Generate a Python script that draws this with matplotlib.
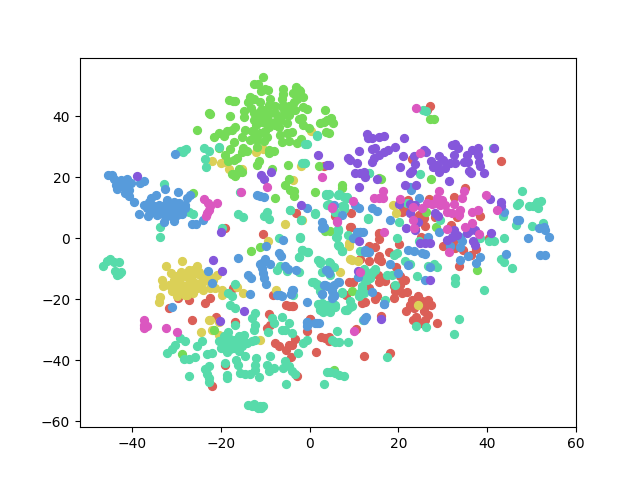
import matplotlib
matplotlib.use("Agg")
import matplotlib.pyplot as plt
import numpy as np
import colorsys

red = [(14.7,-3),(13.5,-2.7),(17.8,-4.7),(20.1,-1.9),(11.4,-7),(13.5,-7.6),(15.6,-6),(16,-7.6),(15.4,-7),(19.6,-9.5),(20.5,-12.5),(21.6,-13.6),(15.4,-12.2),(15.6,-14.5),(16.9,-14.2),(16,-13),(8.8,-14.5),(9.9,-14.5),(13.5,-16.4),(15.2,-18.9),(14.8,-19.9),(12.6,-21),(11.8,-21.3),(8.1,-18.5),(19,-15.8),(20.5,-15.3),(19.3,-17.4),(20.8,-18),(22,-17.8),(19,-19.6),
(24.5,-19.1),(23.1,-20.2),(22.6,-21.8),(23.5,-22.9),(25.4,-20.7),(26.7,-20.2),(27.5,-22),(26.1,-22.4),(21.7,-24),(25.7,-24),(26.6,-25.1),(26.1,-26.7),(23.3,-27),(24,-25.9),(25.2,-27.8),(28.7,-27.8),(16.2,-25.4),(10.5,-29.8),(12.3,-38.8),(18.2,-37.7),(4.3,-33.8),(33.6,-9),(37.6,-3.6),(36.3,-5.4),(34.6,-3.8),(30.2,-2.7),(32.9,-3.2),
(9.2,3.8),(15.6,1.6),(15.6,-0.3),(-4,-22.3),(0.2,-26.6),(3.5,-32.7),(-4.7,-22.3),(-17.3,-16.4),(-29.7,-19.6),(-27.1,-20.2),(-23.7,-21.3),(-22.4,-19.6),(-31.8,-22.9),(-26.5,-26.9),(-21.1,-25.9),(-16.8,-27.5),(-8.3,-18.8),(-5.3,-22),(-3.8,-22.4),(-9.2,-24.9),(-9.6,-29.5),(-8.9,-28.4),(0.2,-26.5),(-0.6,-30.6),(-3.2,-33.1),(-4.7,-34.9),(-4,-35.1),(-5.3,-36.6),(-7.7,-34.4),(-6.8,-35.3),(2.6,-32.5),(4.3,-32.5),(1.4,-37.4),(-4.2,-39.1),(-19,-41.5),(-22,-48.6),(-2.9,-45.3),
(-3.1,8.2),(-19.2,3.3),(-10.5,1.2),(3.2,23.8),(27.2,43.2),(26.5,42.1),(43.2,25.4),(23.2,25.9),(35,16.4),(32.5,13.4),(27,12.8),(22.2,12.6),(20.8,8.7),(21.2,9.3),(24.6,7.6),(24.2,6.5),(25.7,6.5),(26.1,4.1),(28.2,6.8),(33.2,6.8),(38.5,7.3),(9.3,8.2),(9.3,3.8),(15.6,1.4),(32,4.4),(23.7,3),(25.2,0.5),(40.4,0),(32.5,-0.6),(5.8,7.1)]

yellow = [(-28.8,-7.6),(-32.3,-9),(-31.3,-11.4),(-33.3,-13.8),(-33.1,-15.8),(-33.8,-19.4),(-34,-20.9),(-27.3,-10.3),(-25.4,-9.3),(-26.2,-10.3),(-29.2,-12),(-30.7,-13.6),(-29.5,-14.2),(-28,-12.5),(-26.5,-12.5),(-24.7,-12),(-23.2,-13.6),(-31.8,-15.3),(-30.3,-15.8),(-28.8,-15.3),(-27.3,-14.7),(-25.8,-14.7),(-24.3,-14.7),(-31,-17.4),(-29.5,-18),(-28,-18.5),(-26.2,-18),(-28.4,-16.9),(-26.9,-16.9),(-25.4,-16.4),(-22.4,-16.4),(-20.9,-12),(-21.7,-13.6),(-19.8,-16.9),(-19.8,-18.5),(-21.3,-16.4),(-27.7,-18.5),(-29.9,-19.1),(-16.4,-16.1),(-15,-18),(-22.8,-26.9),(-22.4,-26.7),(-24.4,-30.9),(-22,-30),(-20.4,-31.9),(-11.3,-33.3),(-7.6,-16.9),(-20.5,-27.5),
(-22,25.4),(-20.1,24.8),(-19.4,25.1),(-18.1,22.8),(-15.3,22.7),(-12.1,28.1),(-10.5,29.2),(0.3,35),(-1.9,23.8),(-3.8,19.1),(-5.5,4.6),(-9.4,-1.1),(-1.7,5.8),(18.8,10.8),(19.6,8.2),(9,-2.5),(9.2,-6.7),(9.6,-7.3),(10.9,-7.6),(6.9,-11.2),(24.5,-22),(8.8,-1.6),
(-29,-11),(-27,-13),(-25,-11),(-30,-17),(-28,-16),(-27,-17.5),(-24,-17),(-25,-15),(-30,-12.5),(-23,-12)]

green = [(-10.6,52.8),(-12.6,50.4),(-11.7,50.4),(-10.1,48.9),(-10.9,48.1),(-9.4,48.5),(-6.1,48.8),(-6.1,47.3),(-3,49.7),(-2.5,48.6),(-3.8,47.5),(-2.1,48.1),(-6.2,45.7),(-1.5,46.3),(-2.9,45.7),(-3.6,44.8),(-13.5,46.2),(-12.6,45.7),(-13.8,44.8),(-11.1,44.8),(-9,45.7),(-18.1,45.3),(-17.3,45.1),(-16.8,45.1),(-13.2,42.6),(-14.9,41.8),(-12.6,41),(-9.2,43.7),(-7.7,43.2),(-6.1,43.7),(-4.7,43.2),(-3.2,42.1),(-5.5,41.5),(-1.4,42.9),(-0.7,42.3),(3.4,42.1),(-22.8,41),(-22.4,40.8),(-18,40.1),(-14.7,39.7),(-12.6,38.8),(-11.1,39.9),(-9.6,39.9),(-7.7,41),(-5.9,40.4),(-4.7,40.4),(-1.7,39.3),(-2.5,39),(-12.2,37.1),(-10.7,38.2),(-8.9,38.2),(-7.7,37.1),(-6.6,38.8),(-5.1,37.7),(-7,36.6),(-9.2,36.6),(3.2,38.2),(2.4,37.7),(3.9,38.8),(-1.4,37.1),(-0.2,36),(3.7,34.7),(-25.4,35.3),(-16.8,36.4),(-17.5,35.5),(-18.6,35),(-20.5,34.4),(-21.6,33.3),(-19.4,33.6),(-14.5,35.5),(-15.3,33.3),(-12.6,34.4),(-11.1,34.4),(-9.6,33.3),(-6.6,33.9),(-5.1,34.4),(-4,34.7),(-13.4,32.2),(-11.9,32.2),(-10.4,31.7),(-6.2,31.5),(-4.7,31.7),(-2.9,31.1),(-1.9,32.6),(-17.1,31.5),(-17.9,29.3),(-15,29.7),(-14.1,28.7),(-15.3,28.1),(-11.9,30),(-9.1,28.9),(-8.1,28.6),(-9.1,27.9),(-19.2,27.3),(-18.5,25.4),(-17.1,25.7),(-16.4,26.4),(-17.5,21.1),(-16.4,21.3),(-15.3,21.8),(-16.8,20.5),(-16,22.6),(-11.5,25.4),(-11.9,24),(-4.9,24),(-4.6,19.3),(-5.5,17.3),(-4.4,15.8),(-3.6,15.3),(-3.5,13.9),(1.3,15.1),(-7.8,13),(2.2,23.8),(-26.2,14.7),(-8.5,22.6),(3.4,2.2),(-20.4,29.5),(-11.1,40.4),(-10,38.2),(-7.4,38.8),(-5.9,42.6),(-4.4,42.6),(-8.9,41),
(4.9,39.5),(5.3,37.6),(4.3,34.4),(7.3,17.5),(7.3,16.4),(27.2,39),(28,39),(27.4,19.5),(26.3,8.7),(28.5,3.6),(4.7,2.5),(37.8,-10.3),(9.6,-17.4),(5.4,-43.1),(-13.2,-4.3),(-11.3,-3),(-21.6,-30.2),(-28.8,-37.9),(15.6,19.7),(16,19.5),
(-13,35),(-10,35),(-11,42),(-10.5,42)]

teal = [(-46.6,-9.2),(-45.7,-7.6),(-45,-6.7),(-44.2,-7.9),(-43.1,-7.9),(-44,-10.9),(-43.1,-11.7),(-42.5,-11.2),(-43.5,-12.2),(-19.4,-32.2),(-18.3,-30.9),(-20.5,-33.8),(-19.4,-34.4),(-18.3,-34.4),(-16.8,-33.3),(-16,-32.2),(-14.9,-31.7),(-20.1,-36),(-19,-36),(-17.9,-35.5),(-16.4,-34.9),(-15.3,-35.5),(-14.1,-34.4),(-13,-33.8),(-12.3,-33.3),(-18.6,-37.4),(-16,-37.1),(-12.6,-30),(-12.3,-28.4),(-16.8,-28.6),(-12.3,-24.6),(-13,-26.2),(-8.1,-27.8),(-8.5,-26.2),(-6.2,-26),(-4.7,-27.8),(-5.5,-30),(-6.2,-30.2),(-4,-31.1),(-9.4,-30.8),(-0.6,-33.3),(-1.4,-34.4),(-2.6,-37.7),
(-29.3,-32.7),(-28.2,-33.6),(-30.3,-34.9),(-31,-36.4),(-32.2,-37.7),(-28.4,-39.5),(-27.3,-39.5),(-25.9,-39),(-25.4,-35.5),(-24.3,-33.8),(-23.2,-38),(-22,-37.7),(-23.7,-42.9),(-22.8,-42),(-23.2,-44.4),(-22.6,-45.9),(-22.8,-47.3),(-27.1,-45.3),(-18.6,-44.8),(-18.6,-45.9),(-19.2,-40.9),(-16.6,-39.9),(-16.2,-41.5),(-14.5,-38.8),(-12.1,-39.3),(-8.9,-38.8),(-9.6,-41.5),(-12.3,-41.5),(-12.3,-43.1),(-15.6,-44.2),(-14.5,-44.5),(-13.4,-44.5),(-11.5,-45.6),(-9.2,-43.7),(-8.1,-42.6),(-5.9,-42.6),(-5.5,-40.4),(-4.7,-42),(-4,-43.7),(-3.2,-44.5),(-5.3,-47.9),(3.2,-47.7),(3.9,-44),
(-13.8,-54.6),(-12.6,-54.3),(-11.7,-55.7),(-10.6,-54.9),(-12.3,-55.2),(-11.3,-55.2),(-16.8,-14.9),(-18.4,-18),(-17.4,-19.1),(-17.9,-21.8),(-16.9,-22.9),(-7.4,-10.3),(-6.6,-9),(-5.1,-10.9),(-2.5,-11.2),(-2.5,-6.2),(-1.7,-4),(-0.4,-4.7),(-3.8,-18.5),(0.5,-14.5),(1.7,-14.9),(2.4,-17.4),(2,-21.5),(3.2,-22.4),(2.4,-23.5),(3.9,-23.5),(2.3,-7.6),(3.5,-10.9),
(-29.2,28.6),(-28.4,29),(-27.9,29.2),(-28.6,28.2),(-23.9,29.5),(-22.8,28.7),(-20.5,30),(-23.7,25.8),(-23.4,23.2),(-32.9,17.7),(-33.7,3.5),(-33.7,0.5),(-27.3,8.7),(-26.2,7.9),(-19.8,3.3),(-16.2,8),(-15.1,6.8),(-10.4,7.4),(-9.6,8.7),(-9.2,6.3),(-4.4,9.3),(-1.9,5.8),(-6.8,-0.1),(-2.1,0.2),(-0.7,30.9),(1.7,33.6),(-1.1,24.6),(3.7,14.2),(3.9,10.9),(1.3,8),(-15.6,15),(1.7,33.8),(-1,31),(-1.2,24.7),(-1.7,24.5),(13.5,21.4),(3.9,14.1),(3.7,14.6),(6.5,14.1),(8.4,13.5),(7.7,9.7),(7.3,10.5),(4.3,11.1),(5.8,8.6),(13.2,6.4),(1.3,8.1),(-1.9,5.9),(-4.4,9.2),(6.5,2.9),
(13.5,21.5),(24.8,21.1),(41.3,29.7),(47.9,15.3),(46.8,10.9),(47.2,11.5),(49.4,10.7),(50.5,10.7),(51.3,11.8),(52.2,12.3),(51.5,9.8),(50.2,4.1),(52.6,4.9),(46.6,4.4),(43.6,7.1),(43.9,0.2),(19.7,0),(20.1,5.4),(13.2,6.5),(6.6,14.4),(7.7,13.6),(8.4,13.3),(7.7,10.4),(6.4,2.5),(8.7,1.1),(6,0.3),(4.3,14.4),(5.8,8.7),(22,11.5),(29.5,5.8),(24.6,-0.9),(38.5,0),(40.4,-1.1),(41.5,-0.9),
(6.6,-2.5),(7.3,-4.3),(11.4,-4.3),(19,-5.4),(19.7,-4.9),(21.6,-7.6),(22.6,-8.4),(26.7,-9.2),(28,-8.5),(28.7,-9.5),(24.2,-12.5),(32.9,-13.1),(32.7,-14.7),(39.3,-17.1),(43.2,-6.8),(43.8,-7.8),(45.6,-9.9),(4.7,-8.2),(5.4,-9.5),(4.7,-12),(12.2,-10),(14.1,-11.4),(14.8,-10.1),(13.7,-13.1),(12.9,-13.6),(12.2,-13.1),(17.5,-12),(18.6,-12.2),(19.3,-15.3),(11.8,-15.8),(11.4,-18),(12.2,-18),(11.1,-19.1),(7.3,-17.8),(9.2,-20.7),(9.6,-22.4),(8.4,-23.5),(5.1,-21.8),(5.8,-21.8),(4.7,-24.3),(17.1,-20.4),(12,-27),(6.2,-30.6),(24,-28.9),(26.3,-29.3),(33.7,-26.6),(32.6,-31.5),(5.1,-33.3),(5.8,-34.1),(6.6,-34.1),(8.7,-34.2),(17.5,-39.1),(4.7,-44),(5.8,-44.2),(6.6,-45),(7.7,-45.3),
(2.8,-21.4),(3.9,-21.9),(5,-21.4),(2.4,-23),(3.5,-23.6),(4.7,-23.6),(5.8,-22.5),(8,-23.6),(9.2,-22.5),(11.4,-18.1),(11.8,-16.5),(13,-12.1),(14.8,-10.5),(14.1,-11),(2,-7.2),(2.4,-8.3),(4.3,-7.7),(2.8,-11),(-2.1,0.3),(-1.7,-3.9),(-2.5,-6.1),(-0.6,-4.7),(0.9,-14.5),(1.7,-15.4),(7.4,-18.1),(6.2,0.5),(6.5,-2.3),(7.3,-4.2),(6.4,2.7),
(25.6,42),(26.3,41.8),(-12.9,-55),(-10.9,-55.6),(-17,-36),(-18,-33),(-15,-33.5),(-18,-36.5),(3.5,-22),(4.4,-22.7),(3,-24.3)]

blue = [(-45.5,20.7),(-44.6,20.7),(-44.2,19.4),(-42.9,18),(-41.2,19.4),(-40.4,18),(-41.9,16.9),(-43.5,16),(-40.8,15.8),(-41.6,14.7),(-40.8,13.9),(-38.2,18.2),(-37.4,18.6),(-39.7,11.7),(-32.6,16),(-29.8,15.1),(-35.7,13.3),(-34.7,14.2),(-36.3,11.8),(-37.4,10.9),(-36.7,9.8),(-38.6,7.9),(-36.5,7.1),(-34.4,7.6),(-33.7,9.3),(-32.6,10.9),(-32.2,12.6),(-30.7,12),(-31.8,9.3),(-30.3,10.4),(-28.8,7.9),(-29.5,9.8),(-27.7,13.3),(-26.9,14.2),(-28,9.8),(-32.8,5.4),(-30.7,5.7),(-31.8,7.6),(-26.5,4.7),(-25.6,4.7),(-24.1,6),(-35.2,10.4),(-32.2,7.1),(-30.3,27.7),(-11.1,13.9),(-11.9,14),(-10.4,13.6),(-0.6,10),(2.8,5.4),(3.2,3.8),(2.8,3.3),(-6,-0.6),
(-16.2,-6.6),(-22.9,-10.9),(-22,-14.8),(-31,-22.7),(-9.8,-2.7),(-10.7,-8.2),(-10,-7),(-8.9,-8.4),(-10.7,-9.8),(-10.5,-11.4),(-10.4,-13.1),(-9.8,-14.9),(-11.1,-8.4),(-7,-4.9),(-6.4,-5.8),(-5.5,-9.3),(-4.9,-10.1),(-3.1,-10.6),(-13.8,-12.2),(-13.2,-13.1),(-13.5,-18.3),(-3.8,-16.9),(-4.1,-18.2),(-7.4,-18.5),(-6.6,-18.5),(-6.2,-19.1),(-0.6,-27.5),(-0.6,-28.9),(1.3,-27.9),(2.2,-27.9),(3.7,-10.3),(3.2,-15.3),(3.9,-15.8),(2.8,-18.3),
(11.4,2.1),(10.7,1.9),(10,-0.1),(12.4,-4.4),(13.3,-4.7),(3.9,-10.5),(4.4,-11.5),(18.2,-8.6),(19.9,-11.5),(6.5,-14.5),(3.5,-15.4),(4.7,-15.9),(5,-17),(5.4,-18.6),(5,-19.7),(2.8,-18.4),(14.1,-17.6),(16.8,-21.7),(12.4,-26.3),(-0.6,-27.4),(1.7,-27.7),(-4,-17),(-4.1,-18.3),(10.9,-12.6),(-0.6,-21),(12.2,-26.7),(12.7,-26),(16.8,-21.6),(22.2,-8.9),(27.2,-9.5),(26.1,-13.6),(22.3,-4),(23.5,-4.3),(25.4,-4.9),(26.1,-5.2),(33.9,-7.3),(35.7,-6),(37.5,-8.2),(38.5,-6.3),(44.3,-5.2),(31.7,-2.7),(34,-2.9),(52,-5.4),(53.2,-5.4),(13.2,-4.5),(12.6,-4),(6.6,-14.5),(5.4,-15.3),(5.1,-17.4),(5.4,-19),
(22.9,15.8),(22.7,16.9),(24.7,13.3),(14.1,9.8),(15.2,9),(10.3,10.9),(11.1,9.8),(7.2,7.6),(5.4,10.9),(18.2,5.8),(11.4,2),(12,2),(9.9,0),(26.7,0.5),(29.1,2),(34,0.5),(34.4,-1.1),(43.8,8.5),(46.8,5.8),(47.3,6),(51.7,3.3),(52.8,3.8),(53.2,2.7),(54.1,0.5),(49.3,-0.1),
(-31,8.5),(-30,7.5),(-31,11),(-29.5,11.5),(-33,8),(-34,11),(-35.5,8.5),(-28,11),(-42,18),(-41,17),(-42.5,19),(-41.5,15.5),(-43.6,17.5),(-30.5,9)]

purple = [(12.9,34.1),(13.2,32.8),(14.1,32.8),(15.6,33.3),(16.7,33.6),(14.8,29.5),(14.1,29.3),(15.6,27.3),(14.5,26.2),(14.1,25.1),(17.7,28.9),(16.7,28.4),(19.3,30),(21.3,32.7),(11.2,28.7),(8.7,26.4),(9.2,25.7),(10.7,24.8),(21,27),(4.3,24),(10.3,21.3),(11.4,21.3),(12.2,21.8),(12.6,20),(15.3,19.5),(11.1,16.9),(20.4,23.2),(23.5,27),(23.7,24.2),(23.1,22.1),(22.6,21.5),(25.7,28.9),(26.3,28.1),(27.4,25.4),(29.3,27),(27.8,23.2),(28.7,24),(29.1,21.8),(30.6,22.9),(30.2,25.7),(31.7,24.6),(32.7,24.6),(32.5,27.3),(32.1,30.4),(32.9,30.9),(33.5,29.5),(35.5,27.3),(34.8,25.1),(35.7,25.1),(36.6,28.9),(37.9,29.7),(38.1,27.3),(38.3,25.1),(38.5,23.5),(35.9,22.1),(36.3,21.3),(39.3,21.5),(41.6,29.5),(31.4,18.6),(21.6,17.3),(24,17.4),(40.8,12.9),(43.2,11.7),(43.2,10.4),(20.1,11.2),(22.7,11.2),(23.8,10.9),(22.7,8.2),(28.4,8.4),(29,7.3),(24.5,5.4),(21.8,3.2),(23.7,2.7),(32.5,2.7),(33.2,1.1),(32.1,0.5),(31,-0.6),(35.9,2.2),(37.4,2.7),(35.5,1.6),(36.9,-0.8),(40.9,1.8),(11.1,-0.9),(25,-1.6),(26.1,-1.6),(27.2,-1.6),(37.4,-2.2),
(-39,20.5),(1.9,27.1),(3.9,24),(-10.9,20.7),(-10.4,19.4),(-8.7,21.8),(-1.9,10.8),(-19.9,2),(-21.8,-7.3),(-19.8,-10.9),(-14.7,-24),(-20.2,-27.1),(16,-26.5),(27.2,-13.6),(10.9,-10.9)]

magenta = [(-23.9,12.8),(-22.9,11.5),(-22.4,10.4),(-20.9,11.4),(-23.1,8.2),(-23.3,7.1),(-22.8,9.3),(2.8,20.1),(-9.6,16.9),(-15.5,15),(-37.3,-27),(-37.3,-28.4),(-37.3,-29.5),(-36.7,-28.9),(-32.5,-29.5),(-29.9,-30.9),(24.1,42.8),(25,27.9),(14.5,13),(15.6,13),(16.6,13.1),(16.6,15.3),(9.8,12.3),(5.1,10.1),(6.2,5.4),(16.7,1.9),(20.5,12.9),(23.3,10.1),(23.3,6),(23.5,3.3),(29.3,15.3),(34.8,15.3),(34.4,13.1),(39.8,14),(42.3,9.1),(36.6,8.7),(37.9,9.1),(36.6,4.9),(38.3,1.4),(35,3.8),(31,3),(25.4,9.8),(26.5,11.5),(27.6,11.2),(28.7,13.1),(29.9,12.6),(30.6,10.9),(31,8.7),(32.1,8.2),(32.5,11.2),(34,9.3),(33.6,7.6),(28.4,11.5),(29.5,10.9),(31.4,-4.7),(11.3,-11.2),(10.1,-30.6),(5,10),(6.2,5.7)]

classes = [red, yellow, green, teal, blue, purple, magenta]

# seaborn "hls" palette with seven hues
hues = [(0.01 + i / 7) % 1 for i in range(7)]
palette = [colorsys.hls_to_rgb(h, 0.6, 0.65) for h in hues]

fig, ax = plt.subplots(figsize=(6.4, 4.8), dpi=100)
for pts, col in zip(classes, palette):
    arr = np.array(pts)
    ax.scatter(arr[:, 0], arr[:, 1], s=32, color=col)
ax.set_xlim(-51.8, 60.1)
ax.set_ylim(-62, 59.2)
fig.savefig("out.png", dpi=100)
